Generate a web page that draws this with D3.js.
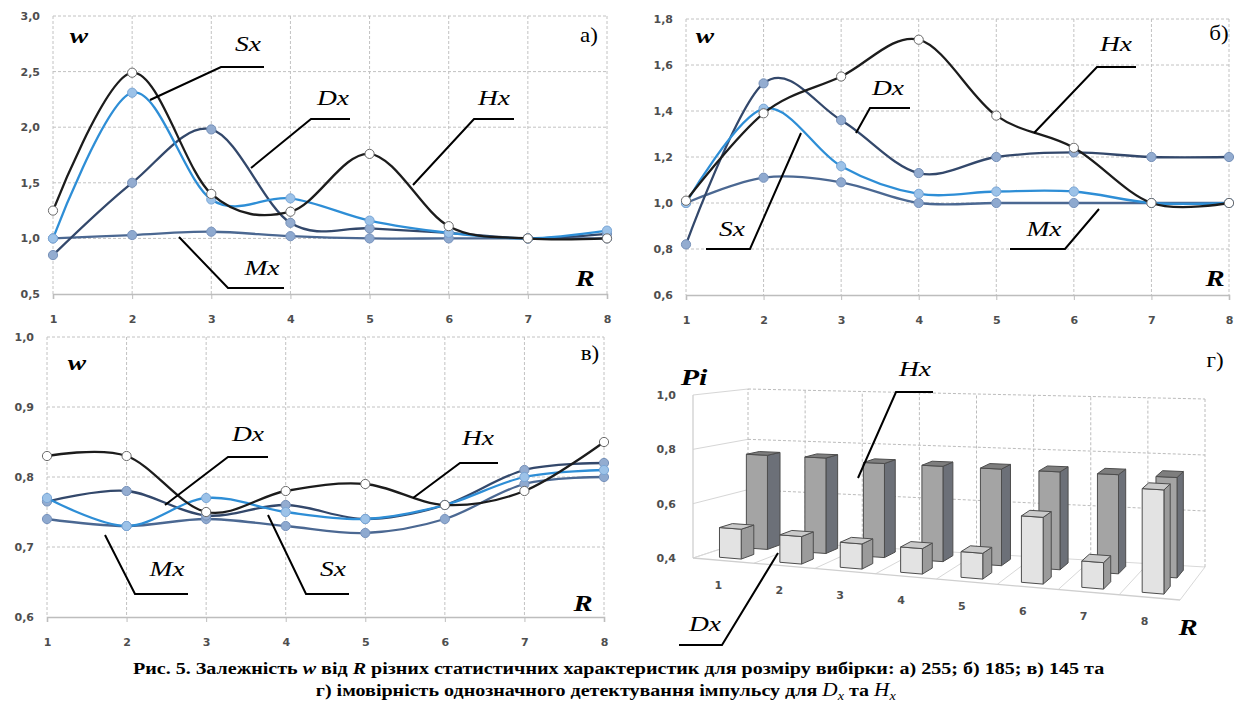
<!DOCTYPE html>
<html><head><meta charset="utf-8">
<script src="https://cdn.jsdelivr.net/npm/d3@7"></script>
<style>body{margin:0;background:#fff}svg{display:block}</style>
</head><body>
<svg id="c" width="1237" height="715"></svg>
<script>
// ---------- DATA ----------
const categories = [1, 2, 3, 4, 5, 6, 7, 8];
// panel a) sample size 255
const aHx = [1.25, 2.49, 1.40, 1.24, 1.76, 1.11, 1.00, 1.00];
const aSx = [1.00, 2.31, 1.35, 1.36, 1.16, 1.05, 1.00, 1.07];
const aDx = [0.85, 1.50, 1.98, 1.14, 1.09, 1.05, 1.00, 1.04];
const aMx = [1.00, 1.03, 1.06, 1.02, 1.00, 1.00, 1.00, 1.00];
const aTicks = [0.5, 1.0, 1.5, 2.0, 2.5, 3.0];
// panel б) sample size 185
const bHx = [1.01, 1.39, 1.55, 1.71, 1.38, 1.24, 1.00, 1.00];
const bDx = [0.82, 1.52, 1.36, 1.13, 1.20, 1.22, 1.20, 1.20];
const bSx = [1.00, 1.41, 1.16, 1.04, 1.05, 1.05, 1.00, 1.00];
const bMx = [1.00, 1.11, 1.09, 1.00, 1.00, 1.00, 1.00, 1.00];
const bTicks = [0.6, 0.8, 1.0, 1.2, 1.4, 1.6, 1.8];
// panel в) sample size 145
const cHx = [0.83, 0.83, 0.75, 0.78, 0.79, 0.76, 0.78, 0.85];
const cDx = [0.765, 0.78, 0.745, 0.76, 0.74, 0.76, 0.81, 0.82];
const cSx = [0.77, 0.73, 0.77, 0.75, 0.74, 0.76, 0.80, 0.81];
const cMx = [0.74, 0.73, 0.74, 0.73, 0.72, 0.74, 0.79, 0.80];
const cTicks = [0.6, 0.7, 0.8, 0.9, 1.0];
// panel г) probability of unambiguous detection
const dDx = [0.51, 0.50, 0.49, 0.49, 0.49, 0.63, 0.49, 0.75];
const dHx = [0.76, 0.76, 0.75, 0.75, 0.75, 0.75, 0.75, 0.75];
const dTicks = [0.4, 0.6, 0.8, 1.0];
const dRows = ["Dx", "Hx"];

// ---------- STYLE ----------
const styles = {
  Hx: {line: "#1c1c1c", fill: "#ffffff", mstroke: "#6a6a6a"},
  Dx: {line: "#33486b", fill: "#93acd0", mstroke: "#7590b8"},
  Sx: {line: "#2e8ed6", fill: "#9cc2e8", mstroke: "#7aa6d6"},
  Mx: {line: "#4b6892", fill: "#8ea9cf", mstroke: "#7893bd"}
};
const serif = "'Liberation Serif', 'Times New Roman', Times, 'DejaVu Serif', serif";
const svg = d3.select("#c");
const fmt = v => d3.format(".1f")(v).replace(".", ",");
const tickFont = "'DejaVu Sans', sans-serif";

function linePanel(cfg) {
  const x = d3.scalePoint().domain(categories).range([cfg.x0, cfg.x1]);
  const y = d3.scaleLinear().domain(cfg.domain).range([cfg.yBot, cfg.yTop]);
  const g = svg.append("g");
  g.selectAll(null).data(cfg.ticks.slice(1)).join("line")
    .attr("x1", cfg.x0).attr("x2", cfg.x1)
    .attr("y1", d => y(d)).attr("y2", d => y(d))
    .attr("stroke", "#c2c2c2").attr("stroke-dasharray", "3,2");
  g.selectAll(null).data(categories).join("line")
    .attr("x1", d => x(d)).attr("x2", d => x(d))
    .attr("y1", cfg.yTop).attr("y2", cfg.yBot)
    .attr("stroke", "#c2c2c2").attr("stroke-dasharray", "3,2");
  const ax = g.append("g").attr("transform", `translate(0,${cfg.yBot})`)
    .call(d3.axisBottom(x).tickSize(5).tickPadding(16));
  ax.select(".domain").attr("stroke", "#bdbdbd").attr("stroke-width", 1.6);
  ax.selectAll(".tick line").attr("stroke", "#bdbdbd");
  ax.selectAll("text").attr("font-family", tickFont).attr("font-weight", "bold")
    .attr("font-size", 11).attr("fill", "#4e4e4e");
  const ay = g.append("g").attr("transform", `translate(${cfg.x0},0)`)
    .call(d3.axisLeft(y).tickValues(cfg.ticks).tickFormat(fmt).tickSize(0).tickPadding(13));
  ay.select(".domain").remove();
  ay.selectAll("text").attr("font-family", tickFont).attr("font-weight", "bold")
    .attr("font-size", 11).attr("fill", "#4e4e4e");
  const line = d3.line().x((d, i) => x(categories[i])).y(d => y(d))
    .curve(d3.curveCardinal.tension(0));
  cfg.series.forEach(s => {
    const st = styles[s.name];
    g.append("path").datum(s.values).attr("d", line).attr("fill", "none")
      .attr("stroke", st.line).attr("stroke-width", 2.3);
    g.selectAll(null).data(s.values).join("circle")
      .attr("cx", (d, i) => x(categories[i])).attr("cy", d => y(d)).attr("r", 4.6)
      .attr("fill", st.fill).attr("stroke", st.mstroke).attr("stroke-width", 1);
  });
}

linePanel({x0: 53, x1: 607, yTop: 16, yBot: 294, domain: [0.5, 3.0], ticks: aTicks,
  series: [{name: "Mx", values: aMx}, {name: "Dx", values: aDx}, {name: "Sx", values: aSx}, {name: "Hx", values: aHx}]});
linePanel({x0: 686, x1: 1229, yTop: 19, yBot: 295, domain: [0.6, 1.8], ticks: bTicks,
  series: [{name: "Mx", values: bMx}, {name: "Dx", values: bDx}, {name: "Sx", values: bSx}, {name: "Hx", values: bHx}]});
linePanel({x0: 47, x1: 604, yTop: 337, yBot: 617, domain: [0.6, 1.0], ticks: cTicks,
  series: [{name: "Mx", values: cMx}, {name: "Dx", values: cDx}, {name: "Sx", values: cSx}, {name: "Hx", values: cHx}]});

// ---------- 3D bar panel ----------
const box = {FL: [693, 558], FR: [1180, 600], BL: [748, 540], BR: [1205, 567],
  hFL: 163, hFR: 181, hBL: 151, hBR: 168};
const vScale = d3.scaleLinear().domain([0.4, 1.0]).range([0, 1]);
const uScale = d3.scaleBand().domain(categories).range([0, 1]).paddingInner(0.64).paddingOuter(0.32);
const dScale = d3.scaleBand().domain(dRows).range([0, 1]).paddingInner(0.52).paddingOuter(0.26);
const lerp = (a, b, t) => a + (b - a) * t;
function proj(u, d, v) {
  const fx = lerp(box.FL[0], box.FR[0], u), fy = lerp(box.FL[1], box.FR[1], u);
  const bx = lerp(box.BL[0], box.BR[0], u), by = lerp(box.BL[1], box.BR[1], u);
  const h = lerp(lerp(box.hFL, box.hFR, u), lerp(box.hBL, box.hBR, u), d);
  return [lerp(fx, bx, d), lerp(fy, by, d) - vScale(v) * h];
}
const gd = svg.append("g");
const seg = (p, q) => gd.append("line").attr("x1", p[0]).attr("y1", p[1]).attr("x2", q[0]).attr("y2", q[1]);
dTicks.forEach(v => {
  const l = seg(proj(0, 1, v), proj(1, 1, v)).attr("stroke", "#bcbcbc");
  if (v > 0.4) l.attr("stroke-dasharray", "3,2"); else l.attr("stroke", "#d8d8d8");
  seg(proj(0, 0, v), proj(0, 1, v)).attr("stroke", "#d6d6d6");
});
d3.range(0, 9).forEach(i => {
  seg(proj(i / 8, 1, 0.4), proj(i / 8, 1, 1.0)).attr("stroke", "#bcbcbc").attr("stroke-dasharray", "3,2");
  seg(proj(i / 8, 0, 0.4), proj(i / 8, 1, 0.4)).attr("stroke", "#d8d8d8");
});
seg(proj(0, 0, 0.4), proj(1, 0, 0.4)).attr("stroke", "#cfcfcf").attr("stroke-width", 1.3);
seg(proj(0, 0, 0.4), proj(0, 0, 1.0)).attr("stroke", "#cfcfcf").attr("stroke-width", 1.3);
gd.selectAll(null).data(dTicks).join("text")
  .attr("x", 676).attr("y", d => proj(0, 0, d)[1]).attr("dy", "0.35em")
  .attr("text-anchor", "end").attr("font-family", tickFont).attr("font-weight", "bold")
  .attr("font-size", 11).attr("fill", "#4e4e4e").text(fmt);
gd.selectAll(null).data(categories).join("text")
  .attr("x", d => proj(uScale(d) + uScale.bandwidth() / 2, 0, 0.4)[0] - 5)
  .attr("y", d => proj(uScale(d) + uScale.bandwidth() / 2, 0, 0.4)[1] + 28)
  .attr("text-anchor", "middle").attr("font-family", tickFont).attr("font-weight", "bold")
  .attr("font-size", 11).attr("fill", "#4e4e4e").text(d => d);
const barColors = {
  Hx: {front: "#a4a4a4", side: "#6c7078", top: "#7e7e7e"},
  Dx: {front: "#e3e3e3", side: "#9b9b9b", top: "#cacaca"}
};
function drawRow(row, values) {
  values.forEach((val, i) => {
    const c = categories[i];
    const u0 = uScale(c), u1 = u0 + uScale.bandwidth();
    const d0 = dScale(row), d1 = d0 + dScale.bandwidth();
    const faces = [
      {pts: [proj(u1, d0, 0.4), proj(u1, d1, 0.4), proj(u1, d1, val), proj(u1, d0, val)], fill: barColors[row].side},
      {pts: [proj(u0, d0, 0.4), proj(u1, d0, 0.4), proj(u1, d0, val), proj(u0, d0, val)], fill: barColors[row].front},
      {pts: [proj(u0, d0, val), proj(u1, d0, val), proj(u1, d1, val), proj(u0, d1, val)], fill: barColors[row].top}
    ];
    faces.forEach(f => gd.append("polygon").attr("points", f.pts.map(p => p.join(",")).join(" "))
      .attr("fill", f.fill).attr("stroke", "#4d4d4d").attr("stroke-width", 1).attr("stroke-linejoin", "round"));
  });
}
drawRow("Hx", dHx);
drawRow("Dx", dDx);

// ---------- ANNOTATIONS ----------
function txt(x, y, content, size, opts = {}) {
  return svg.append("text").attr("transform", `translate(${x},${y}) scale(${opts.sx || 1.25},1)`)
    .attr("text-anchor", "middle").attr("dy", "0.35em")
    .attr("font-family", serif).attr("font-size", size).attr("fill", "#000")
    .attr("font-style", opts.italic === false ? "normal" : "italic")
    .attr("font-weight", opts.bold ? "bold" : "normal").text(content);
}
function leader(pts) {
  svg.append("path").attr("d", d3.line()(pts)).attr("fill", "none")
    .attr("stroke", "#000").attr("stroke-width", 2);
}
// panel a
txt(79, 35, "w", 22, {bold: true});
txt(589, 35, "а)", 20, {italic: false, sx: 1.15});
txt(585, 278, "R", 23, {bold: true});
txt(248, 43, "Sx", 22); leader([[264, 67], [221, 67], [150, 100]]);
txt(333, 97, "Dx", 22); leader([[350, 119], [311, 119], [251, 168]]);
txt(494, 97, "Hx", 22); leader([[514, 119], [474, 119], [413, 185]]);
txt(262, 267, "Mx", 22); leader([[284, 288], [228, 288], [179, 237]]);
// panel b
txt(705, 35, "w", 22, {bold: true});
txt(1219, 33, "б)", 20, {italic: false, sx: 1.15});
txt(1215, 278, "R", 23, {bold: true});
txt(1116, 43, "Hx", 22); leader([[1136, 67], [1097, 67], [1034, 133]]);
txt(888, 87, "Dx", 22); leader([[910, 108], [870, 108], [856, 133]]);
txt(732, 228, "Sx", 22); leader([[706, 249], [750, 249], [801, 133]]);
txt(1044, 228, "Mx", 22); leader([[1010, 249], [1065, 249], [1099, 209]]);
// panel c
txt(77, 362, "w", 22, {bold: true});
txt(590, 353, "в)", 20, {italic: false, sx: 1.15});
txt(583, 603, "R", 23, {bold: true});
txt(248, 433, "Dx", 22); leader([[268, 457], [228, 457], [165, 505]]);
txt(478, 437, "Hx", 22); leader([[498, 463], [460, 463], [413, 498]]);
txt(167, 568, "Mx", 22); leader([[188, 594], [135, 594], [105, 535]]);
txt(333, 568, "Sx", 22); leader([[349, 594], [306, 594], [268, 515]]);
// panel d
txt(1215, 360, "г)", 20, {italic: false, sx: 1.15});
txt(694, 377, "Pi", 24, {bold: true});
txt(1188, 627, "R", 23, {bold: true});
txt(915, 368, "Hx", 22); leader([[933, 392], [896, 392], [858, 478]]);
txt(705, 623, "Dx", 22); leader([[679, 645], [722, 645], [778, 553]]);

// ---------- CAPTION ----------
const cap1 = svg.append("text").attr("font-family", serif).attr("font-weight", "bold")
  .attr("font-size", 17).attr("fill", "#000");
cap1.append("tspan").text("Рис. 5. Залежність ");
cap1.append("tspan").attr("font-style", "italic").text("w");
cap1.append("tspan").text(" від ");
cap1.append("tspan").attr("font-style", "italic").text("R");
cap1.append("tspan").text(" різних статистичних характеристик для розміру вибірки: а) 255; б) 185; в) 145 та");
const w1 = cap1.node().getComputedTextLength();
const capScale = 972 / w1;
cap1.attr("transform", `translate(133,674) scale(${capScale},1)`);

const cap2 = svg.append("text").attr("font-family", serif).attr("font-weight", "bold")
  .attr("font-size", 17).attr("fill", "#000");
cap2.append("tspan").text("г) імовірність однозначного детектування імпульсу для  ");
cap2.append("tspan").attr("font-style", "italic").attr("font-weight", "normal").attr("font-size", 18).text("D");
cap2.append("tspan").attr("font-style", "italic").attr("font-weight", "normal").attr("font-size", 12).attr("dy", 4).text("x");
cap2.append("tspan").attr("dy", -4).text("  та  ");
cap2.append("tspan").attr("font-style", "italic").attr("font-weight", "normal").attr("font-size", 18).text("H");
cap2.append("tspan").attr("font-style", "italic").attr("font-weight", "normal").attr("font-size", 12).attr("dy", 4).text("x");
const w2 = cap2.node().getComputedTextLength();
cap2.attr("transform", `translate(${606 - w2 * capScale / 2},696) scale(${capScale},1)`);
</script>
</body></html>
